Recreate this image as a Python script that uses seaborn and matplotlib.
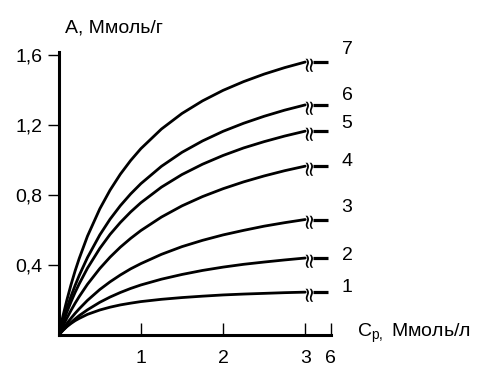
import numpy as np
import pandas as pd
import matplotlib
matplotlib.use("Agg")
import matplotlib.pyplot as plt
import seaborn as sns

# ---- data ----
x_vals = [0, 0.05, 0.1, 0.15, 0.2, 0.25, 0.35, 0.5, 0.625, 0.75, 0.875,
          1.0, 1.25, 1.5, 1.75, 2.0, 2.25, 2.5, 2.75, 3.0]
curve_1 = [0, 0.026, 0.048, 0.066, 0.082, 0.095, 0.118, 0.143, 0.159, 0.172,
           0.182, 0.191, 0.204, 0.214, 0.222, 0.229, 0.234, 0.238, 0.242, 0.245]
curve_2 = [0, 0.026, 0.050, 0.072, 0.092, 0.111, 0.144, 0.187, 0.217, 0.243,
           0.266, 0.286, 0.319, 0.346, 0.369, 0.388, 0.404, 0.417, 0.429, 0.440]
curve_3 = [0, 0.034, 0.066, 0.096, 0.124, 0.150, 0.198, 0.260, 0.304, 0.343,
           0.378, 0.408, 0.461, 0.505, 0.541, 0.572, 0.598, 0.622, 0.642, 0.660]
curve_4 = [0, 0.050, 0.097, 0.141, 0.182, 0.220, 0.290, 0.380, 0.445, 0.502,
           0.552, 0.597, 0.674, 0.738, 0.791, 0.836, 0.875, 0.909, 0.939, 0.965]
curve_5 = [0, 0.069, 0.132, 0.190, 0.244, 0.293, 0.382, 0.495, 0.575, 0.643,
           0.703, 0.756, 0.845, 0.917, 0.976, 1.026, 1.069, 1.105, 1.137, 1.165]
curve_6 = [0, 0.081, 0.154, 0.222, 0.284, 0.341, 0.443, 0.572, 0.662, 0.739,
           0.806, 0.865, 0.964, 1.044, 1.109, 1.164, 1.210, 1.250, 1.285, 1.315]
curve_7 = [0, 0.106, 0.201, 0.288, 0.367, 0.438, 0.565, 0.721, 0.828, 0.919,
           0.997, 1.065, 1.177, 1.266, 1.338, 1.398, 1.448, 1.491, 1.528, 1.560]
curve_names = ["1", "2", "3", "4", "5", "6", "7"]
curves = [curve_1, curve_2, curve_3, curve_4, curve_5, curve_6, curve_7]
label_y = [0.269, 0.457, 0.726, 0.989, 1.21, 1.37, 1.63]

y_ticks = [0.4, 0.8, 1.2, 1.6]
y_tick_labels = ["0,4", "0,8", "1,2", "1,6"]
x_ticks = [1, 2, 3]
x_tick_labels = ["1", "2", "3"]
x_break_tick = 3.31
x_break_label = "6"

# ---- layout constants ----
break_mark_x = 3.04
tail_x0, tail_x1 = 3.10, 3.28
label_x = 3.51

sns.set_style("ticks")
plt.rcParams["font.family"] = ["Liberation Sans", "DejaVu Sans"]
plt.rcParams["mathtext.fontset"] = "custom"
plt.rcParams["mathtext.rm"] = "Liberation Sans"

rows = []
for name, ys in zip(curve_names, curves):
    for xv, yv in zip(x_vals, ys):
        rows.append({"C": xv, "A": yv, "curve": name})
df = pd.DataFrame(rows)

fig = plt.figure(figsize=(4.84, 3.69), dpi=100)
ax = fig.add_axes([0.1213, 0.0921, 0.562, 0.7683])

sns.lineplot(data=df, x="C", y="A", hue="curve", palette=["black"] * 7,
             legend=False, linewidth=2.0, ax=ax, sort=True, estimator=None)

for name, ys, ly in zip(curve_names, curves, label_y):
    yend = ys[-1]
    ax.plot([tail_x0, tail_x1], [yend, yend], color="black", lw=2.3,
            solid_capstyle="butt", clip_on=False)
    ax.text(break_mark_x, yend, "≈", rotation=90, ha="center", va="center",
            fontsize=15, color="black", family="DejaVu Sans", clip_on=False)
    ax.text(label_x, ly, name, ha="center", va="center", fontsize=14,
            color="black", clip_on=False)

ax.set_xlim(0, x_break_tick)
ax.set_ylim(0, 1.62)
ax.set_xticks(x_ticks + [x_break_tick])
ax.set_xticklabels(x_tick_labels + [x_break_label])
ax.set_yticks(y_ticks)
ax.set_yticklabels(y_tick_labels)
ax.tick_params(axis="x", direction="in", length=9, width=1.0, pad=11,
               labelsize=14, colors="black")
ax.tick_params(axis="y", direction="out", length=8, width=1.0, pad=4,
               labelsize=14, colors="black")
ax.set_xlabel("")
ax.set_ylabel("")
for s in ["top", "right"]:
    ax.spines[s].set_visible(False)
for s in ["left", "bottom"]:
    ax.spines[s].set_linewidth(2.2)
    ax.spines[s].set_color("black")

fig.text(65 / 484, 1 - 28 / 369, "A, Ммоль/г", ha="left", va="center",
         fontsize=14, color="black")
fig.text(357 / 484, 1 - 333 / 369, r"C$_{\mathregular{p,}}$ Ммоль/л",
         ha="left", va="center", fontsize=14, color="black")

fig.savefig("out.png", dpi=100, facecolor="white")
